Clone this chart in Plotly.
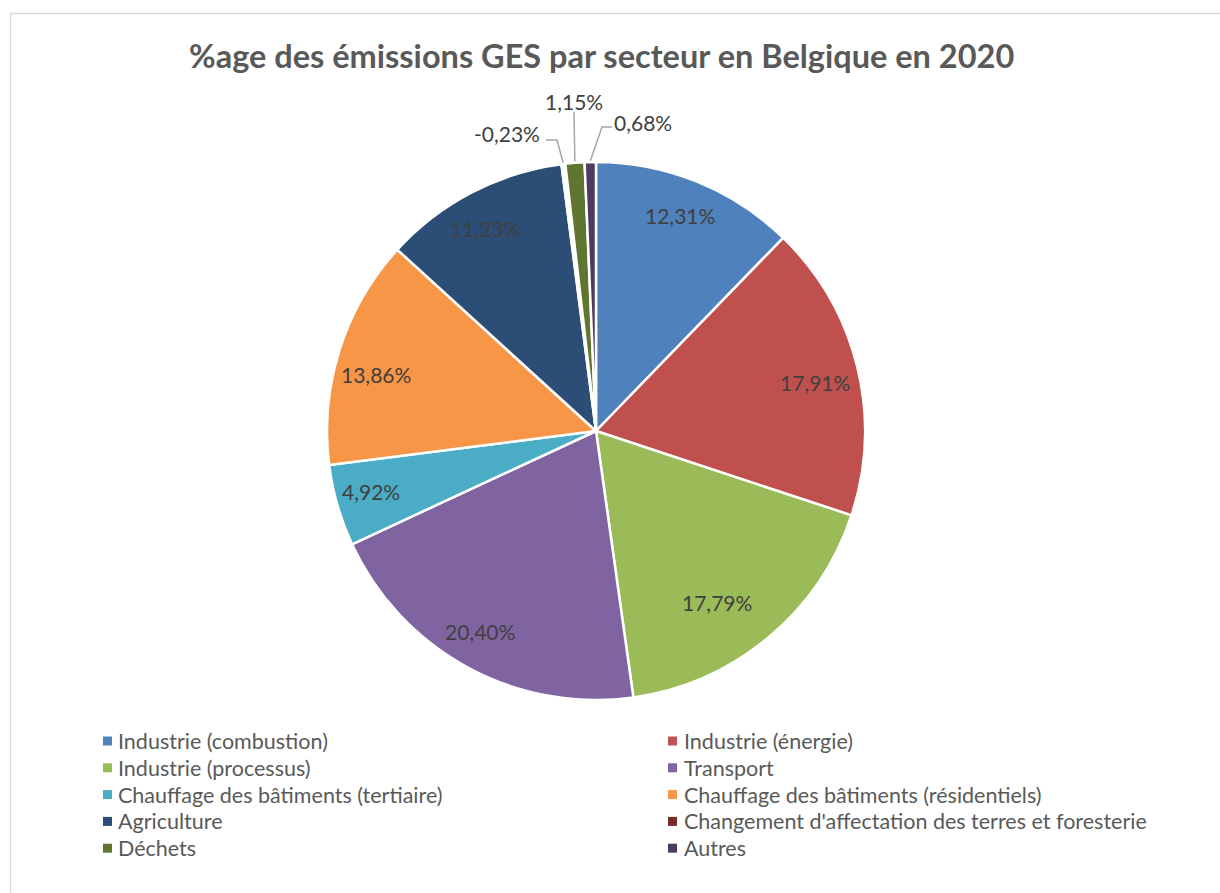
import math
import plotly.graph_objects as go

# Sector shares of Belgian GHG emissions in 2020 (%)
sectors = [
    "Industrie (combustion)",
    "Industrie (énergie)",
    "Industrie (processus)",
    "Transport",
    "Chauffage des bâtiments (tertiaire)",
    "Chauffage des bâtiments (résidentiels)",
    "Agriculture",
    "Changement d'affectation des terres et foresterie",
    "Déchets",
    "Autres",
]
shares = [12.31, 17.91, 17.79, 20.40, 4.92, 13.86, 11.23, -0.23, 1.15, 0.68]
colors = [
    "#4F81BD", "#C0504D", "#9BBB59", "#8064A2", "#4BACC6",
    "#F79646", "#2C4D75", "#772C2A", "#5F7530", "#4D3B62",
]
title = "%age des émissions GES par secteur en Belgique en 2020"

W, H = 1220, 893
CX, CY, R = 596, 431, 269
FONT = "Lato"
LABEL_COLOR = "#404040"
TEXT_COLOR = "#595959"


def fmt(v):
    return f"{v:.2f}".replace(".", ",") + "%"


# slice sizes use magnitudes; a negative share is left unfilled
sizes = [abs(v) for v in shares]
fills = [c if v >= 0 else "#FFFFFF" for c, v in zip(colors, shares)]

total = sum(sizes)
mid_angles = []
acc = 0.0
for s in sizes:
    mid_angles.append((acc + s / 2) / total * 360.0)
    acc += s


def polar(theta_deg, r):
    t = math.radians(theta_deg)
    return CX + r * math.sin(t), CY - r * math.cos(t)


fig = go.Figure()
fig.add_trace(go.Pie(
    values=sizes,
    labels=sectors,
    customdata=[fmt(v) for v in shares],
    sort=False,
    direction="clockwise",
    rotation=0,
    marker=dict(colors=fills, line=dict(color="#FFFFFF", width=2.5)),
    textinfo="none",
    hovertemplate="%{label}<br>%{customdata}<extra></extra>",
    showlegend=False,
    domain=dict(x=[(CX - R) / W, (CX + R) / W],
                y=[(H - CY - R) / H, (H - CY + R) / H]),
))

annotations = []
shapes = []

# value labels inside the large slices (best-fit nudges: angle offset, radius fraction)
label_fit = {2: (4.8, 0.78), 5: (-3.1, 0.845), 0: (-0.8, 0.86), 1: (1.4, 0.835),
             3: (1.5, 0.86), 4: (0.9, 0.865), 6: (-1.2, 0.86)}
for i, v in enumerate(shares):
    if abs(v) >= 3:
        dth, rf = label_fit.get(i, (0.0, 0.85))
        x, y = polar(mid_angles[i] + dth, rf * R)
        annotations.append(dict(
            x=x, y=y, xref="x", yref="y", text=fmt(v), showarrow=False,
            font=dict(family=FONT, size=21, color=LABEL_COLOR),
        ))

# small slices: labels outside with leader lines
outside = {
    7: dict(pos=(507, 133), elbow=[(546, 140), (557, 140)]),
    8: dict(pos=(574, 101), elbow=[(574, 112)]),
    9: dict(pos=(643, 122), elbow=[(612, 127), (602, 127)]),
}
for i, spec in outside.items():
    annotations.append(dict(
        x=spec["pos"][0], y=spec["pos"][1], xref="x", yref="y",
        text=fmt(shares[i]), showarrow=False,
        font=dict(family=FONT, size=21, color=LABEL_COLOR),
    ))
    pts = spec["elbow"] + [polar(mid_angles[i], R + 1)]
    fig.add_trace(go.Scatter(
        x=[p[0] for p in pts], y=[p[1] for p in pts], mode="lines",
        line=dict(color="#A6A6A6", width=1.5), hoverinfo="skip", showlegend=False,
    ))

# title
annotations.append(dict(
    x=601, y=55, xref="x", yref="y", text="<b>" + title + "</b>", showarrow=False,
    font=dict(family=FONT, size=32.5, color=TEXT_COLOR),
))

# two-column legend, filled row by row
row_y0, row_step = 741, 26.8
col_sw = [107.5, 672.5]
col_tx = [116, 682]
for i, name in enumerate(sectors):
    row, col = divmod(i, 2)
    y = row_y0 + row * row_step
    xs = col_sw[col]
    shapes.append(dict(
        type="rect", xref="x", yref="y", x0=xs - 4.5, x1=xs + 4.5, y0=y - 4.5, y1=y + 4.5,
        fillcolor=colors[i], line=dict(width=0),
    ))
    annotations.append(dict(
        x=col_tx[col], y=y, xref="x", yref="y", text=name, showarrow=False,
        xanchor="left", yanchor="middle",
        font=dict(family=FONT, size=21.5, color=TEXT_COLOR),
    ))

# chart area frame
shapes.append(dict(
    type="rect", xref="paper", yref="paper",
    x0=10.5 / W, y0=1 - 13.5 / H, x1=1.02, y1=-0.02,
    line=dict(color="#D9D9D9", width=1.5), fillcolor="rgba(0,0,0,0)", layer="below",
))

fig.update_layout(
    width=W, height=H,
    margin=dict(l=0, r=0, t=0, b=0),
    paper_bgcolor="#FFFFFF", plot_bgcolor="rgba(0,0,0,0)",
    xaxis=dict(range=[0, W], visible=False, fixedrange=True, domain=[0, 1]),
    yaxis=dict(range=[H, 0], visible=False, fixedrange=True, domain=[0, 1]),
    annotations=annotations,
    shapes=shapes,
    showlegend=False,
)

fig.write_html("out.html", config={"displayModeBar": False})
